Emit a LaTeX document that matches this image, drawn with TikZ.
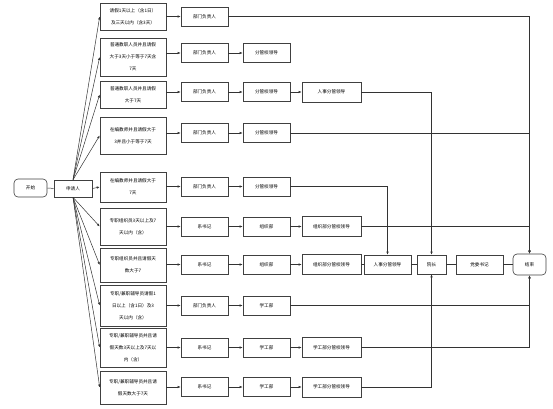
\documentclass[tikz,border=0pt]{standalone}
\usepackage{fontspec}
\setmainfont{Noto Sans CJK SC}
\usetikzlibrary{arrows.meta}

\tikzset{
  box/.style={draw=black!75, line width=0.6pt, fill=white, inner sep=1pt, align=center,
    font=\fontsize{4.6}{12}\selectfont},
  cond/.style={box, minimum width=66pt},
  stage/.style={box, minimum width=47pt, minimum height=19pt},
  wide/.style={box, minimum width=59pt, minimum height=20pt},
  term/.style={box, rounded corners=4pt},
  go/.style={-{Latex[length=3pt,width=2.4pt]}, line width=0.5pt, draw=black!80},
  link/.style={line width=0.5pt, draw=black!80},
}

\begin{document}
\begin{tikzpicture}[x=1pt, y=-1pt]
	\useasboundingbox (0,0) rectangle (553,408);

	% start
	\node[term, minimum width=33pt, minimum height=18pt] (start) at (30.5,188) {开始};
	\node[box, minimum width=38pt, minimum height=17pt] (app) at (73,188.5) {申请人};
	\draw[link] (start) -- (app);

	% conditions
	\node[cond, minimum height=27pt] (c1) at (133,16.5) {请假1天以上（含1日）\\及三天以内（含3天）};
	\node[cond, minimum height=38pt] (c2) at (133,57) {普通教职人员并且请假\\大于3天小于等于7天含\\7天};
	\node[cond, minimum height=27pt] (c3) at (133,94.5) {普通教职人员并且请假\\大于7天};
	\node[cond, minimum height=37pt] (c4) at (133,135.5) {在编教师并且请假大于\\3并且小于等于7天};
	\node[cond, minimum height=30pt] (c5) at (133,187) {在编教师并且请假大于\\7天};
	\node[cond, minimum height=37pt] (c6) at (133,226.5) {专职组织员3天以上及7\\天以内（含）};
	\node[cond, minimum height=34pt] (c7) at (133,265) {专职组织员并且请假天\\数大于7};
	\node[cond, minimum height=41pt] (c8) at (133,305.5) {专职/兼职辅导员请假1\\日以上（含1日）及3\\天以内（含）};
	\node[cond, minimum height=39pt] (c9) at (133,347.5) {专职/兼职辅导员并且请\\假天数3天以上及7天以\\内（含）};
	\node[cond, minimum height=33pt] (c10) at (133,387.5) {专职/兼职辅导员并且请\\假天数大于7天};

	\draw[go] (app.north) -- (c1.west);
	\draw[go] (app.north) -- (c2.west);
	\draw[go] (app.north) -- (c3.west);
	\draw[go] (app.north) -- (c4.west);
	\draw[go] (app.east) -- (c5.west);
	\draw[go] (app.south) -- (c6.west);
	\draw[go] (app.south) -- (c7.west);
	\draw[go] (app.south) -- (c8.west);
	\draw[go] (app.south) -- (c9.west);
	\draw[go] (app.south) -- (c10.west);

	% first approval
	\node[stage] (d1) at (204.5,16.5) {部门负责人};
	\node[stage] (d2) at (204.5,53) {部门负责人};
	\node[stage] (d3) at (204.5,92) {部门负责人};
	\node[stage] (d4) at (204.5,133) {部门负责人};
	\node[stage] (d5) at (204.5,186.5) {部门负责人};
	\node[stage] (d6) at (204.5,226.5) {系书记};
	\node[stage] (d7) at (204.5,264.5) {系书记};
	\node[stage] (d8) at (204.5,305.5) {部门负责人};
	\node[stage] (d9) at (204.5,347.5) {系书记};
	\node[stage] (d10) at (204.5,387) {系书记};

	\draw[go] (c1.east |- d1) -- (d1);
	\draw[go] (c2.east |- d2) -- (d2);
	\draw[go] (c3.east |- d3) -- (d3);
	\draw[go] (c4.east |- d4) -- (d4);
	\draw[go] (c5.east |- d5) -- (d5);
	\draw[go] (c6.east |- d6) -- (d6);
	\draw[go] (c7.east |- d7) -- (d7);
	\draw[go] (c8.east |- d8) -- (d8);
	\draw[go] (c9.east |- d9) -- (d9);
	\draw[go] (c10.east |- d10) -- (d10);

	% second approval
	\node[stage] (e2) at (266.5,53) {分管校领导};
	\node[stage] (e3) at (266.5,92) {分管校领导};
	\node[stage] (e4) at (266.5,133) {分管校领导};
	\node[stage] (e5) at (266.5,186.5) {分管校领导};
	\node[stage] (e6) at (266.5,226.5) {组织部};
	\node[stage] (e7) at (266.5,264.5) {组织部};
	\node[stage] (e8) at (266.5,305.5) {学工部};
	\node[stage] (e9) at (266.5,347.5) {学工部};
	\node[stage] (e10) at (266.5,387) {学工部};

	\draw[go] (d2) -- (e2);
	\draw[go] (d3) -- (e3);
	\draw[go] (d4) -- (e4);
	\draw[go] (d5) -- (e5);
	\draw[go] (d6) -- (e6);
	\draw[go] (d7) -- (e7);
	\draw[go] (d8) -- (e8);
	\draw[go] (d9) -- (e9);
	\draw[go] (d10) -- (e10);

	% third approval
	\node[wide] (f3) at (331.5,92) {人事分管领导};
	\node[wide] (f6) at (331.5,226.5) {组织部分管校领导};
	\node[wide] (f7) at (331.5,264.5) {组织部分管校领导};
	\node[wide] (f9) at (331.5,347.5) {学工部分管校领导};
	\node[wide] (f10) at (331.5,387) {学工部分管校领导};

	\draw[go] (e3) -- (f3);
	\draw[go] (e6) -- (f6);
	\draw[go] (e7) -- (f7);
	\draw[go] (e9) -- (f9);
	\draw[go] (e10) -- (f10);

	% main line
	\node[stage] (hr) at (387.5,264.5) {人事分管领导};
	\node[box, minimum width=29pt, minimum height=19pt] (dean) at (431.5,264.5) {院长};
	\node[stage] (sec) at (479.5,264.5) {党委书记};
	\node[term, minimum width=33pt, minimum height=21pt] (end) at (529.5,264.5) {结束};

	\draw[link] (f7) -- (hr);
	\draw[link] (hr) -- (dean);
	\draw[link] (dean) -- (sec);
	\draw[link] (sec) -- (end);

	% returns
	\draw[go] (d1.east) -| (end.north);
	\draw[go] (e4.east) -| (end.north);
	\draw[go] (f6.east) -| (end.north);
	\draw[go] (e8.east) -| (end.south);
	\draw[go] (f9.east) -| (end.south);
	\draw[go] (f3.east) -| (dean.north);
	\draw[go] (f10.east) -| (dean.south);
	\draw[go] (e5.east) -| (hr.north);
\end{tikzpicture}
\end{document}
